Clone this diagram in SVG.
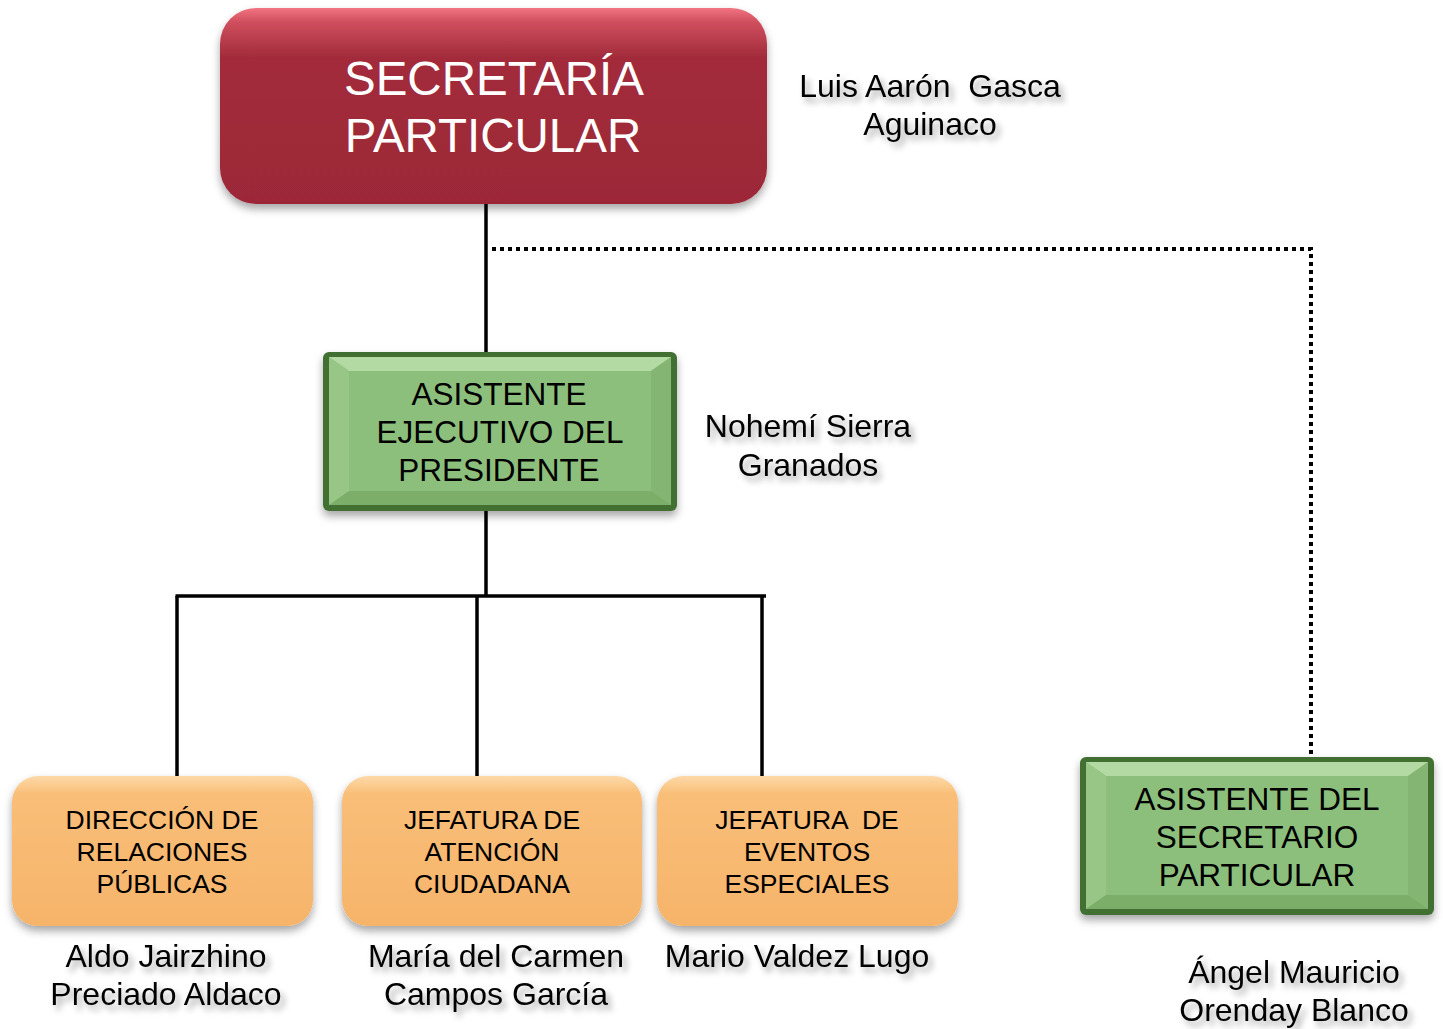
<svg xmlns="http://www.w3.org/2000/svg" width="1443" height="1029" viewBox="0 0 1443 1029">
<defs>
<linearGradient id="gRed" x1="0" y1="0" x2="0" y2="1">
<stop offset="0" stop-color="#F27482"/>
<stop offset="0.07" stop-color="#D04F5E"/>
<stop offset="0.25" stop-color="#A22C3B"/>
<stop offset="1" stop-color="#9C2837"/>
</linearGradient>
<linearGradient id="gOr" x1="0" y1="0" x2="0" y2="1">
<stop offset="0" stop-color="#FDD9A8"/>
<stop offset="0.12" stop-color="#F9BE78"/>
<stop offset="1" stop-color="#F6B46A"/>
</linearGradient>
<filter id="sh" x="-10%" y="-10%" width="120%" height="130%">
<feDropShadow dx="0" dy="5" stdDeviation="4" flood-color="#000" flood-opacity="0.35"/>
</filter>
<filter id="tsh" x="-10%" y="-20%" width="125%" height="160%">
<feDropShadow dx="4" dy="5" stdDeviation="3" flood-color="#000" flood-opacity="0.35"/>
</filter>
<style>
.t{font-family:"Liberation Sans",Arial,sans-serif;text-anchor:middle}
.name{font-size:32px;fill:#000}
.gt{font-size:31.5px;fill:#000}
.ot{font-size:26.5px;fill:#000}
.rt{font-size:47.5px;fill:#fff}
.ln{stroke:#000;stroke-width:3.5;fill:none}
.dot{stroke:#000;stroke-width:4;fill:none;stroke-dasharray:4 4}
</style>
</defs>

<g id="connectors">
<line class="ln" x1="486" y1="200" x2="486" y2="356"/>
<polyline class="dot" points="492,249 1311,249 1311,759"/>
<line class="ln" x1="486" y1="508" x2="486" y2="596"/>
<line class="ln" x1="175.5" y1="596" x2="766" y2="596"/>
<line class="ln" x1="177" y1="596" x2="177" y2="780"/>
<line class="ln" x1="477" y1="596" x2="477" y2="780"/>
<line class="ln" x1="762" y1="596" x2="762" y2="780"/>
</g>

<g id="n-secretaria">
<rect x="220" y="8" width="547" height="196" rx="36" fill="url(#gRed)" filter="url(#sh)"/>
<text class="t rt" x="494" y="95">SECRETARÍA</text>
<text class="t rt" x="493" y="152">PARTICULAR</text>
</g>

<g id="n-asistente-ejecutivo">
<g filter="url(#sh)">
<rect x="323" y="352" width="354" height="159" rx="6" fill="#436F33"/>
<rect x="329" y="357" width="342" height="148" fill="#8DBF7B"/>
<polygon points="329,357 671,357 651,371 349,371" fill="#B4DAA3"/>
<polygon points="329,357 349,371 349,491 329,505" fill="#98C686"/>
<polygon points="671,357 651,371 651,491 671,505" fill="#84B572"/>
<polygon points="329,505 349,491 651,491 671,505" fill="#7CAD69"/>
</g>
<text class="t gt" x="499" y="405">ASISTENTE</text>
<text class="t gt" x="500" y="443">EJECUTIVO DEL</text>
<text class="t gt" x="499" y="481">PRESIDENTE</text>
</g>

<g id="n-asistente-secretario">
<g filter="url(#sh)">
<rect x="1080" y="757" width="354" height="158" rx="6" fill="#436F33"/>
<rect x="1086" y="762" width="342" height="147" fill="#8DBF7B"/>
<polygon points="1086,762 1428,762 1408,776 1106,776" fill="#B4DAA3"/>
<polygon points="1086,762 1106,776 1106,895 1086,909" fill="#98C686"/>
<polygon points="1428,762 1408,776 1408,895 1428,909" fill="#84B572"/>
<polygon points="1086,909 1106,895 1408,895 1428,909" fill="#7CAD69"/>
</g>
<text class="t gt" x="1257" y="810">ASISTENTE DEL</text>
<text class="t gt" x="1257" y="848">SECRETARIO</text>
<text class="t gt" x="1257" y="886">PARTICULAR</text>
</g>

<g id="n-relaciones">
<rect x="12" y="776" width="301" height="150" rx="26" fill="url(#gOr)" filter="url(#sh)"/>
<text class="t ot" x="162" y="829">DIRECCIÓN DE</text>
<text class="t ot" x="162" y="861">RELACIONES</text>
<text class="t ot" x="162" y="893">PÚBLICAS</text>
</g>

<g id="n-atencion">
<rect x="342" y="776" width="300" height="150" rx="26" fill="url(#gOr)" filter="url(#sh)"/>
<text class="t ot" x="492" y="829">JEFATURA DE</text>
<text class="t ot" x="492" y="861">ATENCIÓN</text>
<text class="t ot" x="492" y="893">CIUDADANA</text>
</g>

<g id="n-eventos">
<rect x="657" y="776" width="301" height="150" rx="26" fill="url(#gOr)" filter="url(#sh)"/>
<text class="t ot" x="807" y="829" xml:space="preserve">JEFATURA  DE</text>
<text class="t ot" x="807" y="861">EVENTOS</text>
<text class="t ot" x="807" y="893">ESPECIALES</text>
</g>

<g id="names" filter="url(#tsh)">
<text class="t name" x="930" y="97" xml:space="preserve">Luis Aarón  Gasca</text>
<text class="t name" x="930" y="135">Aguinaco</text>
<text class="t name" x="808" y="437">Nohemí Sierra</text>
<text class="t name" x="808" y="476">Granados</text>
<text class="t name" x="166" y="967">Aldo Jairzhino</text>
<text class="t name" x="166" y="1005">Preciado Aldaco</text>
<text class="t name" x="496" y="967">María del Carmen</text>
<text class="t name" x="496" y="1005">Campos García</text>
<text class="t name" x="797" y="967">Mario Valdez Lugo</text>
<text class="t name" x="1294" y="983">Ángel Mauricio</text>
<text class="t name" x="1294" y="1021">Orenday Blanco</text>
</g>
</svg>
